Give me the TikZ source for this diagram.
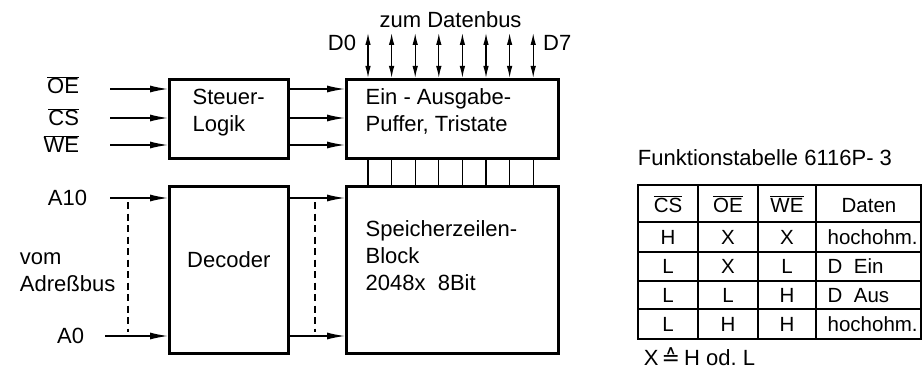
\documentclass[tikz,border=0pt]{standalone}
\usepackage{fontspec}
\setmainfont{Liberation Sans}
\newfontfamily\symfont{DejaVu Sans}
\usetikzlibrary{arrows.meta,calc}

\newcommand{\olab}[1]{$\overline{\mbox{#1}}$}

\begin{document}
\begin{tikzpicture}[>={Latex[length=18pt,width=7pt]}, x=1pt, y=-1pt,
    line width=1.3pt, font=\fontsize{22}{27}\selectfont,
    blk/.style={draw, line width=2.6pt, anchor=north west, inner sep=0pt},
    txt/.style={anchor=north west, align=left, inner sep=0pt},
    cell/.style={anchor=base, inner sep=0pt, font=\fontsize{20.5}{24}\selectfont},
    bus/.style={dash pattern=on 7pt off 4.5pt, line width=1.1pt},
    dat/.style={{Latex[length=12pt,width=5.5pt]}-{Latex[length=12pt,width=5.5pt]}}]
  \useasboundingbox (0,0) rectangle (923,377);
  % Bloecke
  \node[blk, minimum width=119pt, minimum height=79pt] (steuer) at (168,78) {};
  \node[blk, minimum width=212pt, minimum height=79pt] (puffer) at (345,78) {};
  \node[blk, minimum width=119pt, minimum height=167pt] (dec) at (168,185) {};
  \node[blk, minimum width=212pt, minimum height=167pt] (mem) at (345,185) {};
  \node[txt] (steuerT) at ($(steuer.north west)+(24,10)$) {Steuer-\\Logik};
  \node[txt] (pufferT) at ($(puffer.north west)+(20,10)$) {Ein - Ausgabe-\\Puffer, Tristate};
  \node[txt] (memT) at ($(mem.north west)+(20,35)$) {Speicherzeilen-\\Block\\2048x~ 8Bit};
  \node (decT) at ($(dec.north)+(0,75)$) {Decoder};

  % Steuersignale
  \coordinate (s1) at ($(steuer.north west)+(0,11)$);
  \coordinate (s2) at ($(steuer.north west)+(0,40)$);
  \coordinate (s3) at ($(steuer.north west)+(0,67)$);
  \node[anchor=east] (oe) at ($(s1)+(-85,-4)$) {\olab{OE}};
  \node[anchor=east] (cs) at ($(s2)+(-85,-1)$) {\olab{CS}};
  \node[anchor=east] (we) at ($(s3)+(-85,-1)$) {\olab{WE}};
  \foreach \s in {s1,s2,s3} {
    \draw[->] ($(\s)+(-58,0)$) -- (\s);
    \draw[->] (\s -| steuer.east) -- (\s -| puffer.west);
  }

  % Adressen
  \coordinate (a1) at ($(dec.north west)+(0,13)$);
  \coordinate (a0) at ($(dec.north west)+(0,151)$);
  \node[anchor=east] (la1) at ($(a1)+(-77,0)$) {A10};
  \node[anchor=east] (la0) at ($(a0)+(-80,0)$) {A0};
  \node[anchor=west, align=left] (vom) at (16,272) {vom\\Adreßbus};
  \draw[->] ($(a1)+(-58,0)$) -- (a1);
  \draw[->] ($(a0)+(-63,0)$) -- (a0);
  \draw[bus] ($(a1)+(-40,4)$) -- ($(a0)+(-40,-4)$);
  \draw[->] (a1 -| dec.east) -- (a1 -| mem.west);
  \draw[->] (a0 -| dec.east) -- (a0 -| mem.west);
  \draw[bus] ($(a1 -| mem.west)+(-30,4)$) -- ($(a0 -| mem.west)+(-30,-4)$);

  % Datenbus
  \foreach \i in {0,...,7} {
    \coordinate (d\i) at ($(puffer.north west)+(23+\i*23.6,0)$);
    \draw[dat] ($(d\i)+(0,-45)$) -- (d\i);
    \draw (d\i |- puffer.south) -- (d\i |- mem.north);
  }
  \node[anchor=east] (ld0) at ($(d0)+(-8,-35)$) {D0};
  \node[anchor=west] (ld7) at ($(d7)+(6,-35)$) {D7};
  \node (zum) at ($(d3)!0.5!(d4)+(0,-58)$) {zum Datenbus};

  % Funktionstabelle
  \coordinate (tab) at (638,185);
  \node[anchor=west] (ftitle) at ($(tab)+(-4,-27)$) {Funktionstabelle 6116P- 3};
  \foreach \c in {60,120,178}
    \draw ($(tab)+(\c,0)$) -- ($(tab)+(\c,154)$);
  \foreach \r in {37,67,96,124}
    \draw ($(tab)+(0,\r)$) -- ($(tab)+(283,\r)$);
  \draw[line width=2.6pt] (tab) rectangle ($(tab)+(283,154)$);
  \node[cell] (hcs) at ($(tab)+(30,27)$) {\olab{CS}};
  \node[cell] (hoe) at ($(tab)+(90,27)$) {\olab{OE}};
  \node[cell] (hwe) at ($(tab)+(149,27)$) {\olab{WE}};
  \node[cell] (hd) at ($(tab)+(231,27)$) {Daten};
  \foreach \r/\y/\a/\b/\c/\d in {1/59.5/H/X/X/hochohm., 2/88.5/L/X/L/D~ Ein,
      3/117.5/L/L/H/D~ Aus, 4/146.5/L/H/H/hochohm.} {
    \node[cell] (ca\r) at ($(tab)+(30,\y)$) {\a};
    \node[cell] (cb\r) at ($(tab)+(90,\y)$) {\b};
    \node[cell] (cc\r) at ($(tab)+(149,\y)$) {\c};
    \node[cell, anchor=base west] (cd\r) at ($(tab)+(189,\y)$) {\d};
  }
  \node[anchor=west] (xnote) at ($(tab)+(2,172)$) {X\hspace{3pt}{\symfont ≙}\hspace{4pt}H od.~L};
\end{tikzpicture}
\end{document}
